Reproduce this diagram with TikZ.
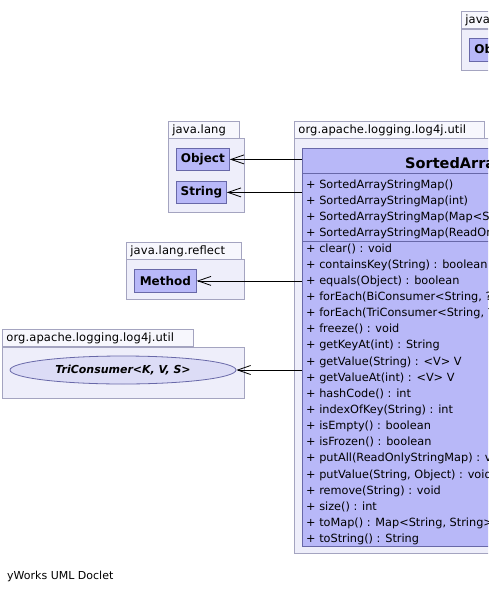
\documentclass[tikz,border=0pt]{standalone}
\usepackage{fontspec}
\setmainfont{DejaVu Sans}
\newfontfamily\tabfont[LetterSpace=1]{DejaVu Sans}
\usetikzlibrary{arrows.meta,shapes.geometric}
\definecolor{pkgfill}{HTML}{EEEEFA}
\definecolor{tabfill}{HTML}{F7F7FD}
\definecolor{pkgline}{HTML}{A4A4C0}
\definecolor{clsfill}{HTML}{B8B8F8}
\definecolor{clsline}{HTML}{6868A8}
\definecolor{ifcfill}{HTML}{DCDCF6}

\begin{document}
\begin{tikzpicture}[x=1pt, y=-1pt, >={Straight Barb[length=13pt,width=9pt]},
    font=\fontsize{11}{13}\selectfont]
	\tikzstyle{pkgtab} = [draw=pkgline, fill=tabfill, line width=0.8pt, anchor=north west,
	  inner xsep=4pt, inner ysep=0pt, minimum height=17pt, align=left,
	  font=\tabfont\fontsize{11.5}{13}\selectfont]
	\tikzstyle{pkgbody} = [draw=pkgline, fill=pkgfill, line width=0.8pt, anchor=north west, inner sep=0pt]
	\tikzstyle{cls} = [draw=clsline, fill=clsfill, line width=0.8pt, anchor=north west, inner sep=0pt,
	  font=\bfseries\fontsize{12}{14}\selectfont]
	\tikzstyle{row} = [anchor=base west, inner sep=0pt, font=\fontsize{11.3}{14}\selectfont]
	\tikzstyle{dep} = [->, line width=0.8pt, black]
	\useasboundingbox (0,0) rectangle (488,592);
	\clip (0,0) rectangle (488,592);
	% java.lang (top right)
	\node[pkgtab, text width=67pt] (toptab) at (461,11) {java.lang};
	\node[pkgbody, minimum width=80pt, minimum height=41pt] (toppkg) at (461,29) {};
	\node[cls, minimum width=54pt, minimum height=23pt] (topobj) at (469,38) {Object};
	% java.lang
	\node[pkgtab, text width=63pt] (langtab) at (168,121) {java.lang};
	\node[pkgbody, minimum width=76pt, minimum height=74pt] (langpkg) at (168,138) {};
	\node[cls, minimum width=53pt, minimum height=22pt] (obj) at (176,148) {Object};
	\node[cls, minimum width=50pt, minimum height=22pt] (str) at (176,181) {String};
	% java.lang.reflect
	\node[pkgtab, text width=107pt] (refltab) at (126,242) {java.lang.reflect};
	\node[pkgbody, minimum width=118pt, minimum height=40pt] (reflpkg) at (126,259) {};
	\node[cls, minimum width=62pt, minimum height=23pt] (meth) at (134,269) {Method};
	% util (left)
	\node[pkgtab, text width=183pt] (utiltab) at (2,329) {org.apache.logging.log4j.util};
	\node[pkgbody, minimum width=242pt, minimum height=51pt] (utilpkg) at (2,347) {};
	\node[ellipse, draw=clsline, fill=ifcfill, line width=0.8pt, inner sep=0pt,
	  minimum width=226pt, minimum height=28pt,
	  font=\bfseries\itshape\fontsize{11}{13}\selectfont] (tri) at (123,370) {TriConsumer<K, V, S>};
	% util (main)
	\node[pkgtab, text width=182pt] (maintab) at (294,121) {org.apache.logging.log4j.util};
	\node[pkgbody, minimum width=420pt, minimum height=415pt] (mainpkg) at (294,138) {};
	\node[cls, minimum width=400pt, minimum height=398pt] (smap) at (302,148) {};
	\node[anchor=base west, inner sep=0pt, font=\bfseries\fontsize{14.5}{16}\selectfont] (title) at (405,168) {SortedArrayStringMap};
	\draw[clsline, line width=0.8pt] (302,173) -- (702,173);
	\draw[clsline, line width=0.8pt] (302,241) -- (702,241);
	\foreach \txt [count=\i from 0] in {SortedArrayStringMap(),SortedArrayStringMap(int),
	  {SortedArrayStringMap(Map<String, ?>)},SortedArrayStringMap(ReadOnlyStringMap)}
	  \node[row] (ctor\i) at (306,{188+16.15*\i}) {+ \txt};
	\foreach \txt [count=\i from 0] in {clear() : void,containsKey(String) : boolean,
	  equals(Object) : boolean,{forEach(BiConsumer<String, ? super V>) : <V> void},
	  {forEach(TriConsumer<String, ? super V, S>, S) : <V, S> void},freeze() : void,
	  getKeyAt(int) : String,getValue(String) : <V> V,getValueAt(int) : <V> V,
	  hashCode() : int,indexOfKey(String) : int,isEmpty() : boolean,isFrozen() : boolean,
	  putAll(ReadOnlyStringMap) : void,{putValue(String, Object) : void},remove(String) : void,
	  size() : int,{toMap() : Map<String, String>},toString() : String}
	  \node[row] (meth\i) at (306,{252+16.15*\i}) {+ \txt};
	% dependencies
	\draw[dep] (smap.west |- obj.east) -- (obj.east);
	\draw[dep] (smap.west |- str.east) -- (str.east);
	\draw[dep] (smap.west |- meth.east) -- (meth.east);
	\draw[dep] (smap.west |- tri.east) -- (tri.east);
	\node[anchor=base west, inner sep=0pt] (doclet) at (7,579) {yWorks UML Doclet};
\end{tikzpicture}
\end{document}
